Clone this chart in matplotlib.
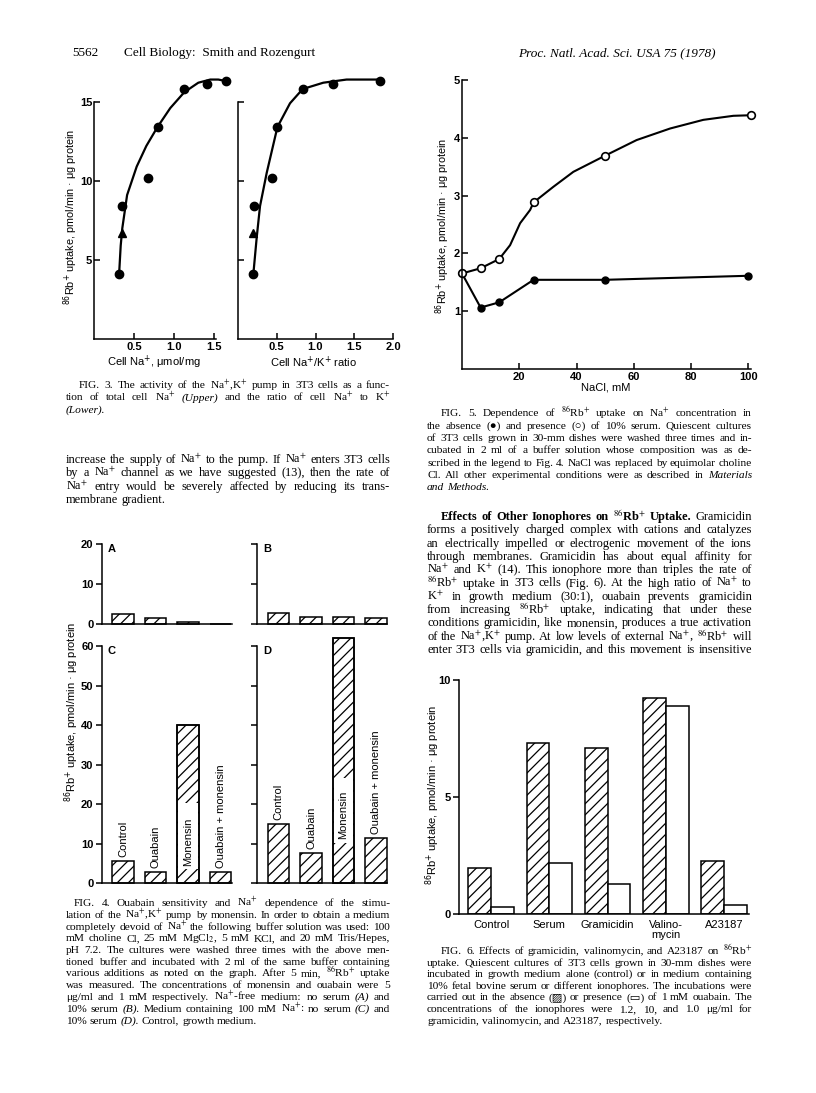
import numpy as np
import matplotlib
matplotlib.use("Agg")
import matplotlib.pyplot as plt

W, H = 816, 1093
SERIF = ["Liberation Serif", "DejaVu Serif", "DejaVu Sans"]
SANS = ["Liberation Sans", "DejaVu Sans"]
YLAB = r"$^{86}$Rb$^{+}$ uptake, pmol/min · μg protein"

# Fig. 3 - Na+,K+ pump activity vs cell Na+ (left) and Na+/K+ ratio (right)
cell_na = [0.31, 0.34, 0.675, 0.79, 1.125, 1.405, 1.65]
na_k_ratio = [0.20, 0.21, 0.44, 0.51, 0.835, 1.22, 1.83]
rb_uptake = [4.1, 8.4, 10.2, 13.4, 15.8, 16.1, 16.3]
tri_na, tri_ratio, tri_rb = [0.34], [0.20], [6.7]
fit_na_x = [0.31, 0.33, 0.35, 0.41, 0.53, 0.65, 0.79, 0.95, 1.125, 1.30, 1.45, 1.55, 1.65]
fit_na_y = [4.1, 5.9, 7.0, 9.1, 10.9, 12.2, 13.4, 14.6, 15.6, 16.2, 16.4, 16.4, 16.3]
fit_ratio_x = [0.20, 0.243, 0.286, 0.372, 0.51, 0.672, 0.835, 1.10, 1.40, 1.83]
fit_ratio_y = [4.1, 6.4, 8.4, 10.5, 13.4, 14.9, 15.8, 16.2, 16.4, 16.4]

# Fig. 4 - ouabain / monensin panels
treatments = ["Control", "Ouabain", "Monensin", "Ouabain + monensin"]
panel_a = [2.5, 1.5, 0.6, 0.0]
panel_b = [2.9, 1.9, 1.9, 1.65]
panel_c = [5.6, 2.8, 40.0, 2.9]
panel_d = [14.9, 7.6, 62.1, 11.4]

# Fig. 5 - Rb uptake vs NaCl
nacl = [0, 6.5, 13, 25, 50, 100]
no_serum = [1.65, 1.06, 1.15, 1.54, 1.54, 1.61]
nacl_open = [0, 6.5, 13, 25, 50, 101]
with_serum = [1.65, 1.74, 1.90, 2.88, 3.69, 4.39]
serum_curve_x = [0, 6.5, 13, 16.8, 20.3, 23.8, 25, 31.9, 38.9, 50, 61.0, 72.7, 84.3, 94.8, 101]
serum_curve_y = [1.65, 1.74, 1.90, 2.14, 2.52, 2.75, 2.88, 3.15, 3.41, 3.69, 3.96, 4.16, 4.31, 4.38, 4.39]

# Fig. 6 - ionophores, without / with ouabain
ionophores = ["Control", "Serum", "Gramicidin", "Valino-\nmycin", "A23187"]
no_ouabain = [1.99, 7.32, 7.10, 9.25, 2.27]
plus_ouabain = [0.32, 2.17, 1.28, 8.88, 0.38]

plt.rcParams["hatch.linewidth"] = 0.9
plt.rcParams["axes.linewidth"] = 1.1
plt.rcParams["font.family"] = SANS

fig = plt.figure(figsize=(W / 100, H / 100), dpi=100)
fig.patch.set_facecolor("white")


def px_axes(left, top, right, bottom):
    return fig.add_axes([left / W, 1 - bottom / H, (right - left) / W, (bottom - top) / H])


def style_axes(ax, direction):
    for s in ["top", "right"]:
        ax.spines[s].set_visible(False)
    ax.patch.set_alpha(0)
    ax.tick_params(direction=direction, length=4, width=1.1, labelsize=8, pad=2)
    for lab in ax.get_xticklabels() + ax.get_yticklabels():
        lab.set_fontweight("bold")


def ptext(x, y, s, **kw):
    return fig.text(x / W, 1 - y / H, s, **kw)


# ---- Fig. 3 ----
ax3a = px_axes(94.3, 339 - 17 * 15.82, 94.3 + 1.7 * 80, 339)
ax3a.plot(fit_na_x, fit_na_y, color="black", lw=1.6, clip_on=False)
ax3a.plot(cell_na, rb_uptake, "o", color="black", ms=6, clip_on=False)
ax3a.plot(tri_na, tri_rb, "^", color="black", ms=5.5, clip_on=False)
ax3a.set_xlim(0, 1.7)
ax3a.set_ylim(0, 17)
ax3a.set_xticks([0.5, 1.0, 1.5])
ax3a.set_yticks([5, 10, 15])
ax3a.spines["left"].set_bounds(0, 15)
ax3a.spines["bottom"].set_bounds(0, 1.52)
style_axes(ax3a, "in")
ax3a.tick_params(axis="y", pad=1.5)

ax3b = px_axes(237.8, 339 - 17 * 15.82, 237.8 + 2.05 * 77.7, 339)
ax3b.plot(fit_ratio_x, fit_ratio_y, color="black", lw=1.6, clip_on=False)
ax3b.plot(na_k_ratio, rb_uptake, "o", color="black", ms=6, clip_on=False)
ax3b.plot(tri_ratio, tri_rb, "^", color="black", ms=5.5, clip_on=False)
ax3b.set_xlim(0, 2.05)
ax3b.set_ylim(0, 17)
ax3b.set_xticks([0.5, 1.0, 1.5, 2.0])
ax3b.set_yticks([5, 10, 15])
ax3b.set_yticklabels([])
ax3b.spines["left"].set_bounds(0, 15)
ax3b.spines["bottom"].set_bounds(0, 2.0)
style_axes(ax3b, "in")

ptext(71, 216.7, YLAB, rotation=90, ha="center", va="center", fontsize=7.8, math_fontfamily="dejavusans")
ptext(154.3, 362.7, r"Cell Na$^{+}$, μmol/mg", ha="center", va="center", fontsize=8, math_fontfamily="dejavusans")
ptext(313.3, 362.7, r"Cell Na$^{+}$/K$^{+}$ ratio", ha="center", va="center", fontsize=8, math_fontfamily="dejavusans")

# ---- Fig. 5 ----
ax5 = px_axes(462, 80, 462 + 103 * 2.8625, 368.75)
ax5.plot(nacl, no_serum, color="black", lw=1.5, clip_on=False)
ax5.plot(serum_curve_x, serum_curve_y, color="black", lw=1.5, clip_on=False)
ax5.plot(nacl, no_serum, "o", color="black", ms=5, clip_on=False)
ax5.plot(nacl_open, with_serum, "o", mfc="white", mec="black", mew=1.2, ms=5.5, clip_on=False)
ax5.set_xlim(0, 103)
ax5.set_ylim(0, 5)
ax5.set_xticks([20, 40, 60, 80, 100])
ax5.set_yticks([1, 2, 3, 4, 5])
ax5.spines["bottom"].set_bounds(0, 101)
style_axes(ax5, "in")
ax5.tick_params(axis="y", pad=1.5)
ptext(443, 225.7, YLAB, rotation=90, ha="center", va="center", fontsize=7.8, math_fontfamily="dejavusans")
ptext(606, 387, "NaCl, mM", ha="center", va="center", fontsize=8)

# ---- Fig. 4 ----
pos = np.arange(len(treatments))
monensin_gap = {"C": (3.5, 20.2), "D": (10.3, 26.6)}


def fig4_panel(ax, values, ymax, ticks, letter, labels, show_ylabels):
    ax.bar(pos, values, width=0.66, color="white", edgecolor="black", hatch="///",
           lw=1.1, clip_on=False)
    ax.set_xlim(-0.65, 3.35)
    ax.set_ylim(0, ymax)
    ax.set_xticks([])
    ax.set_yticks(ticks)
    if not show_ylabels:
        ax.set_yticklabels([])
    style_axes(ax, "out")
    ax.text(-0.35, ymax, letter, ha="center", va="top", fontsize=8, fontweight="bold")
    if labels:
        g0, g1 = monensin_gap[letter]
        ax.bar(pos[2], g1 - g0, bottom=g0, width=0.6, color="white", lw=0, clip_on=False)
        ax.bar(pos[2], values[2], width=0.66, fill=False, edgecolor="black", lw=1.1, clip_on=False)
        for i, name in enumerate(treatments):
            y = g0 + 0.8 if i == 2 else values[i] + 1.0
            ax.text(pos[i], y, name, rotation=90, ha="center", va="bottom", fontsize=8)


axA = px_axes(101.9, 544.3, 231.9, 624.3)
fig4_panel(axA, panel_a, 20, [0, 10, 20], "A", False, True)
axB = px_axes(257.4, 544.3, 387.4, 624.3)
fig4_panel(axB, panel_b, 20, [0, 10, 20], "B", False, False)
axC = px_axes(101.9, 646, 231.9, 883.3)
fig4_panel(axC, panel_c, 60, [0, 10, 20, 30, 40, 50, 60], "C", True, True)
axD = px_axes(257.4, 646, 387.4, 883.3)
fig4_panel(axD, panel_d, 60, [0, 10, 20, 30, 40, 50, 60], "D", True, False)
ptext(72, 711.7, YLAB, rotation=90, ha="center", va="center", fontsize=8, math_fontfamily="dejavusans")

# ---- Fig. 6 ----
ax6 = px_axes(459, 680, 748.5, 914.3)
gpos = np.arange(len(ionophores))
ax6.bar(gpos, no_ouabain, width=-0.39, align="edge", color="white", edgecolor="black",
        hatch="///", lw=1.1)
ax6.bar(gpos, plus_ouabain, width=0.39, align="edge", color="white", edgecolor="black", lw=1.1)
ax6.set_xlim(-0.55, 4.42)
ax6.set_ylim(0, 10)
ax6.set_yticks([0, 5, 10])
ax6.set_xticks(gpos)
ax6.set_xticklabels(ionophores, fontsize=8, linespacing=1.0)
style_axes(ax6, "out")
ax6.tick_params(axis="x", length=0, pad=4)
for lab in ax6.get_xticklabels():
    lab.set_fontweight("normal")
ptext(433, 795, YLAB, rotation=90, ha="center", va="center", fontsize=8, math_fontfamily="dejavusans")

# ---- text ----
renderer = fig.canvas.get_renderer()


def make_words(line, size):
    objs = []
    for w in line.split():
        style, weight = "normal", "normal"
        if w.startswith("*"):
            style, w = "italic", w[1:]
        if w.startswith("#"):
            weight, w = "bold", w[1:]
        objs.append(fig.text(0, 0, w, fontsize=size, family=SERIF, style=style,
                             fontweight=weight, va="baseline", ha="left",
                             math_fontfamily="stix"))
    return objs


def para(lines, x0, x1, y0, step, size, indent=0, justify_last=False):
    # justified lines, last line flush left
    for i, line in enumerate(lines):
        xs = x0 + (indent if i == 0 else 0)
        objs = make_words(line, size)
        widths = [t.get_window_extent(renderer).width for t in objs]
        space = size * 1.389 * 0.25
        n = len(objs)
        min_total = sum(widths) + space * 0.8 * (n - 1)
        if n > 1 and min_total > x1 - xs:
            shrink = (x1 - xs - space * 0.8 * (n - 1)) / sum(widths)
            for t in objs:
                t.set_fontsize(size * shrink)
            widths = [t.get_window_extent(renderer).width for t in objs]
        if (i == len(lines) - 1 and not justify_last) or n == 1:
            gap = space
        else:
            gap = (x1 - xs - sum(widths)) / (n - 1)
        x = xs
        y = y0 + i * step
        for t, w in zip(objs, widths):
            t.set_position((x / W, 1 - y / H))
            x += w + gap


ptext(72, 56, "5562", fontsize=9.5, family=SERIF, va="baseline")
ptext(124, 56, "Cell Biology:  Smith and Rozengurt", fontsize=9.5, family=SERIF, va="baseline")
ptext(518, 56, "Proc. Natl. Acad. Sci. USA 75 (1978)", fontsize=9.5, family=SERIF,
      style="italic", va="baseline")

CAP, BODY = 8.2, 8.9

fig3_caption = [
    r"FIG. 3.  The activity of the Na$^{+}$,K$^{+}$ pump in 3T3 cells as a func-",
    r"tion of total cell Na$^{+}$ *(Upper) and the ratio of cell Na$^{+}$ to K$^{+}$",
    r"*(Lower).",
]
para(fig3_caption, 66, 390, 388, 12.5, CAP, indent=13)

left_body = [
    r"increase the supply of Na$^{+}$ to the pump. If Na$^{+}$ enters 3T3 cells",
    r"by a Na$^{+}$ channel as we have suggested (13), then the rate of",
    r"Na$^{+}$ entry would be severely affected by reducing its trans-",
    r"membrane gradient.",
]
para(left_body, 66, 390, 463, 13.3, BODY)

fig4_caption = [
    r"FIG. 4.  Ouabain sensitivity and Na$^{+}$ dependence of the stimu-",
    r"lation of the Na$^{+}$,K$^{+}$ pump by monensin. In order to obtain a medium",
    r"completely devoid of Na$^{+}$ the following buffer solution was used: 100",
    r"mM choline Cl, 25 mM MgCl$_{2}$, 5 mM KCl, and 20 mM Tris/Hepes,",
    r"pH 7.2. The cultures were washed three times with the above men-",
    r"tioned buffer and incubated with 2 ml of the same buffer containing",
    r"various additions as noted on the graph. After 5 min, $^{86}$Rb$^{+}$ uptake",
    r"was measured. The concentrations of monensin and ouabain were 5",
    r"μg/ml and 1 mM respectively. Na$^{+}$-free medium: no serum *(A) and",
    r"10% serum *(B). Medium containing 100 mM Na$^{+}$: no serum *(C) and",
    r"10% serum *(D). Control, growth medium.",
]
para(fig4_caption, 66, 390, 906, 11.75, CAP, indent=8)

fig5_caption = [
    r"FIG. 5.  Dependence of $^{86}$Rb$^{+}$ uptake on Na$^{+}$ concentration in",
    r"the absence (●) and presence (○) of 10% serum. Quiescent cultures",
    r"of 3T3 cells grown in 30-mm dishes were washed three times and in-",
    r"cubated in 2 ml of a buffer solution whose composition was as de-",
    r"scribed in the legend to Fig. 4. NaCl was replaced by equimolar choline",
    r"Cl. All other experimental conditions were as described in *Materials",
    r"*and *Methods.",
]
para(fig5_caption, 427, 752, 416.5, 12.3, CAP, indent=14)

right_body = [
    r"#Effects #of #Other #Ionophores #on #$^{86}$Rb$^{+}$ #Uptake. Gramicidin",
    r"forms a positively charged complex with cations and catalyzes",
    r"an electrically impelled or electrogenic movement of the ions",
    r"through membranes. Gramicidin has about equal affinity for",
    r"Na$^{+}$ and K$^{+}$ (14). This ionophore more than triples the rate of",
    r"$^{86}$Rb$^{+}$ uptake in 3T3 cells (Fig. 6). At the high ratio of Na$^{+}$ to",
    r"K$^{+}$ in growth medium (30:1), ouabain prevents gramicidin",
    r"from increasing $^{86}$Rb$^{+}$ uptake, indicating that under these",
    r"conditions gramicidin, like monensin, produces a true activation",
    r"of the Na$^{+}$,K$^{+}$ pump. At low levels of external Na$^{+}$, $^{86}$Rb$^{+}$ will",
    r"enter 3T3 cells via gramicidin, and this movement is insensitive",
]
# the last line runs on to the next page, so it is justified too
para(right_body, 427, 752, 520, 13.3, BODY, indent=14, justify_last=True)

fig6_caption = [
    r"FIG. 6.  Effects of gramicidin, valinomycin, and A23187 on $^{86}$Rb$^{+}$",
    r"uptake. Quiescent cultures of 3T3 cells grown in 30-mm dishes were",
    r"incubated in growth medium alone (control) or in medium containing",
    r"10% fetal bovine serum or different ionophores. The incubations were",
    r"carried out in the absence (▨) or presence (▭) of 1 mM ouabain. The",
    r"concentrations of the ionophores were 1.2, 10, and 1.0 μg/ml for",
    r"gramicidin, valinomycin, and A23187, respectively.",
]
para(fig6_caption, 427, 752, 954, 11.6, CAP, indent=14)

fig.savefig("out.png", dpi=100)
